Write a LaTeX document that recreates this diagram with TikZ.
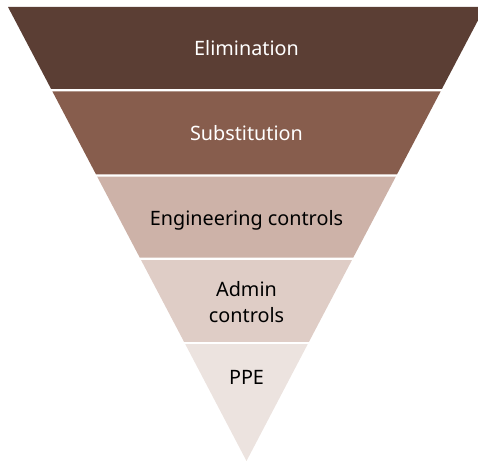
\documentclass[tikz,border=0pt]{standalone}
\usepackage{fontspec}
\setmainfont{Noto Sans}
\definecolor{tierA}{HTML}{5B3E34}
\definecolor{tierB}{HTML}{875D4D}
\definecolor{tierC}{HTML}{CDB2A8}
\definecolor{tierD}{HTML}{DFCDC6}
\definecolor{tierE}{HTML}{ECE3DF}
\tikzset{
  tierlabel/.style={anchor=base, inner sep=0pt, font=\fontsize{19.8}{26}\selectfont, align=center},
}
% left edge of the inverted triangle at a given depth (pt, measured downward)
\newcommand{\leftedge}[1]{8+((#1)-7)*0.52576}
\begin{document}
\begin{tikzpicture}[x=1pt,y=-1pt]
  \useasboundingbox (0,0) rectangle (478,462);
  \clip (0,0) rectangle (478,462);
  % four trapezoid tiers, then the tip
  \foreach \top/\bot/\col/\nm in {7/89/tierA/tA, 91.5/174.3/tierB/tB, 176.6/257.6/tierC/tC, 260.2/341.8/tierD/tD}{
    \pgfmathsetmacro{\lt}{\leftedge{\top}}
    \pgfmathsetmacro{\lb}{\leftedge{\bot}}
    \fill[\col] (\lt,\top) coordinate (\nm-nw) -- (493-\lt,\top) coordinate (\nm-ne)
      -- (493-\lb,\bot) coordinate (\nm-se) -- (\lb,\bot) coordinate (\nm-sw) -- cycle;
  }
  \pgfmathsetmacro{\lt}{\leftedge{344.2}}
  \fill[tierE] (\lt,344.2) coordinate (tE-nw) -- (493-\lt,344.2) coordinate (tE-ne)
    -- (246.5,461) coordinate (apex) -- cycle;
  % labels (a two-line label sits on the baseline of its last line)
  \node[tierlabel, text=white] (elim) at (246.5,56) {Elimination};
  \node[tierlabel, text=white] (subst) at (246.5,141) {Substitution};
  \node[tierlabel, text=black] (eng) at (246.5,225) {Engineering controls};
  \node[tierlabel, text=black] (admin) at (246.5,322.7) {Admin\\controls};
  \node[tierlabel, text=black] (ppe) at (246.5,384) {PPE};
\end{tikzpicture}
\end{document}
